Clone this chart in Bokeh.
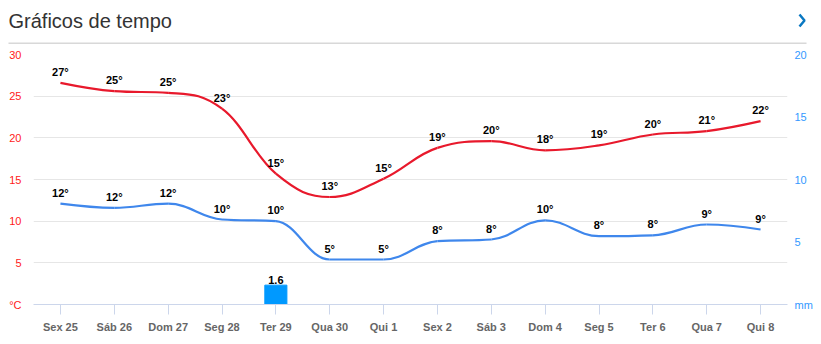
from bokeh.plotting import figure
from bokeh.layouts import column
from bokeh.models import Range1d, LinearAxis, FixedTicker, ColumnDataSource
from bokeh.embed import file_html
from bokeh.resources import INLINE
from bokeh.core.properties import value

days = ["Sex 25", "Sáb 26", "Dom 27", "Seg 28", "Ter 29", "Qua 30", "Qui 1",
        "Sex 2", "Sáb 3", "Dom 4", "Seg 5", "Ter 6", "Qua 7", "Qui 8"]
tmax = [26.6, 25.6, 25.4, 23.5, 15.7, 12.9, 15.1, 18.8, 19.6, 18.5, 19.1, 20.4, 20.8, 22.0]
tmin = [12.1, 11.6, 12.1, 10.2, 10.0, 5.4, 5.4, 7.6, 7.8, 10.1, 8.2, 8.3, 9.6, 9.0]
tmax_labels = ["27°", "25°", "25°", "23°", "15°", "13°", "15°", "19°", "20°", "18°", "19°", "20°", "21°", "22°"]
tmin_labels = ["12°", "12°", "12°", "10°", "10°", "5°", "5°", "8°", "8°", "10°", "8°", "8°", "9°", "9°"]
precip = [0, 0, 0, 0, 1.55, 0, 0, 0, 0, 0, 0, 0, 0, 0]
precip_label = "1.6"
title_text = "Gráficos de tempo"

FONT = "Liberation Sans"
RED = "#e8192c"
BLUE = "#3f87ec"
BAR = "#0099ff"

def spline(xs, ys, smoothing=1.5):
    n = len(xs)
    left = [None] * n
    right = [None] * n
    denom = smoothing + 1
    for i in range(1, n - 1):
        px, py = xs[i], ys[i]
        lx, ly = xs[i - 1], ys[i - 1]
        nx, ny = xs[i + 1], ys[i + 1]
        lcx = (smoothing * px + lx) / denom
        lcy = (smoothing * py + ly) / denom
        rcx = (smoothing * px + nx) / denom
        rcy = (smoothing * py + ny) / denom
        if rcx != lcx:
            corr = ((rcy - lcy) * (rcx - px)) / (rcx - lcx) + py - rcy
            lcy += corr
            rcy += corr
        if lcy > ly and lcy > py:
            lcy = max(ly, py)
            rcy = 2 * py - lcy
        elif lcy < ly and lcy < py:
            lcy = min(ly, py)
            rcy = 2 * py - lcy
        if rcy > ny and rcy > py:
            rcy = max(ny, py)
            lcy = 2 * py - rcy
        elif rcy < ny and rcy < py:
            rcy = min(ny, py)
            lcy = 2 * py - rcy
        left[i] = (lcx, lcy)
        right[i] = (rcx, rcy)
    d = dict(x0=[], y0=[], x1=[], y1=[], cx0=[], cy0=[], cx1=[], cy1=[])
    for i in range(n - 1):
        a = right[i] if right[i] else (xs[i], ys[i])
        b = left[i + 1] if left[i + 1] else (xs[i + 1], ys[i + 1])
        d["x0"].append(xs[i]); d["y0"].append(ys[i])
        d["x1"].append(xs[i + 1]); d["y1"].append(ys[i + 1])
        d["cx0"].append(a[0]); d["cy0"].append(a[1])
        d["cx1"].append(b[0]); d["cy1"].append(b[1])
    return ColumnDataSource(d)

xs = list(range(len(days)))

# Header (its frame covers the whole header strip)
h = figure(width=821, height=44, x_range=Range1d(0, 821), y_range=Range1d(0, 44),
           output_backend="svg", toolbar_location=None, min_border=0)
h.frame_align = False
h.axis.visible = False
h.grid.visible = False
h.outline_line_color = None
h.text(x=[8], y=[24], text=[title_text], text_font=value(FONT),
       text_font_size="20px", text_color="#333333", text_baseline="middle")
h.segment(x0=[8], y0=[1], x1=[806], y1=[1], line_color="#d8d8d8", line_width=2)
h.line(x=[799, 804, 799], y=[30, 24, 18], line_color="#0a78c2", line_width=2.5)

# Chart
p = figure(width=821, height=300, x_range=Range1d(-0.5, len(days) - 0.5),
           y_range=Range1d(0, 30), output_backend="svg", toolbar_location=None,
           min_border_left=33, min_border_right=34, min_border_top=10,
           min_border_bottom=40, y_axis_location=None)
p.frame_align = False
p.outline_line_color = None
p.xgrid.visible = False

yl = LinearAxis(ticker=FixedTicker(ticks=[0, 5, 10, 15, 20, 25, 30]))
yl.major_label_overrides = {0: "°C"}
yl.axis_line_color = None
yl.major_tick_line_color = None
yl.minor_tick_line_color = None
yl.major_label_text_color = "#ff1a1a"
yl.major_label_text_font = FONT
yl.major_label_text_font_size = "11px"
yl.major_label_standoff = 6
p.add_layout(yl, "left")
p.ygrid.ticker = FixedTicker(ticks=[5, 10, 15, 20, 25, 30])
p.ygrid.grid_line_color = "#e6e6e6"

p.extra_y_ranges = {"mm": Range1d(0, 20)}
yr = LinearAxis(y_range_name="mm", ticker=FixedTicker(ticks=[0, 5, 10, 15, 20]))
yr.major_label_overrides = {0: "mm"}
yr.axis_line_color = None
yr.major_tick_line_color = None
yr.minor_tick_line_color = None
yr.major_label_text_color = "#3399ff"
yr.major_label_text_font = FONT
yr.major_label_text_font_size = "11px"
yr.major_label_standoff = 1
p.add_layout(yr, "right")

xa = p.xaxis[0]
xa.ticker = FixedTicker(ticks=xs)
xa.major_label_overrides = {i: d for i, d in enumerate(days)}
xa.axis_line_color = "#ccd6eb"
xa.major_tick_line_color = "#ccd6eb"
xa.major_tick_in = 0
xa.major_tick_out = 10
xa.minor_tick_line_color = None
xa.major_label_text_color = "#666666"
xa.major_label_text_font = FONT
xa.major_label_text_font_style = "bold"
xa.major_label_text_font_size = "11px"
xa.major_label_standoff = 6

# precipitation bars
p.vbar(x=xs, top=precip, width=0.41, color=BAR, y_range_name="mm")
bi = precip.index(max(precip))
p.text(x=[bi], y=[precip[bi]], text=[precip_label], y_range_name="mm",
       text_font=value(FONT), text_font_size="11px", text_font_style="bold",
       text_color="#000000", text_align="center", text_baseline="bottom", y_offset=-1)

# lines
p.bezier(x0="x0", y0="y0", x1="x1", y1="y1", cx0="cx0", cy0="cy0", cx1="cx1", cy1="cy1",
         source=spline(xs, tmax), line_color=RED, line_width=2.2)
p.bezier(x0="x0", y0="y0", x1="x1", y1="y1", cx0="cx0", cy0="cy0", cx1="cx1", cy1="cy1",
         source=spline(xs, tmin), line_color=BLUE, line_width=2.2)

for vals, labs in ((tmax, tmax_labels), (tmin, tmin_labels)):
    p.text(x=xs, y=vals, text=labs, text_font=value(FONT), text_font_size="11px",
           text_font_style="bold", text_color="#000000", text_align="center",
           text_baseline="bottom", y_offset=-5)

layout = column(h, p, spacing=0)
open("out.html", "w").write(file_html(layout, INLINE))
